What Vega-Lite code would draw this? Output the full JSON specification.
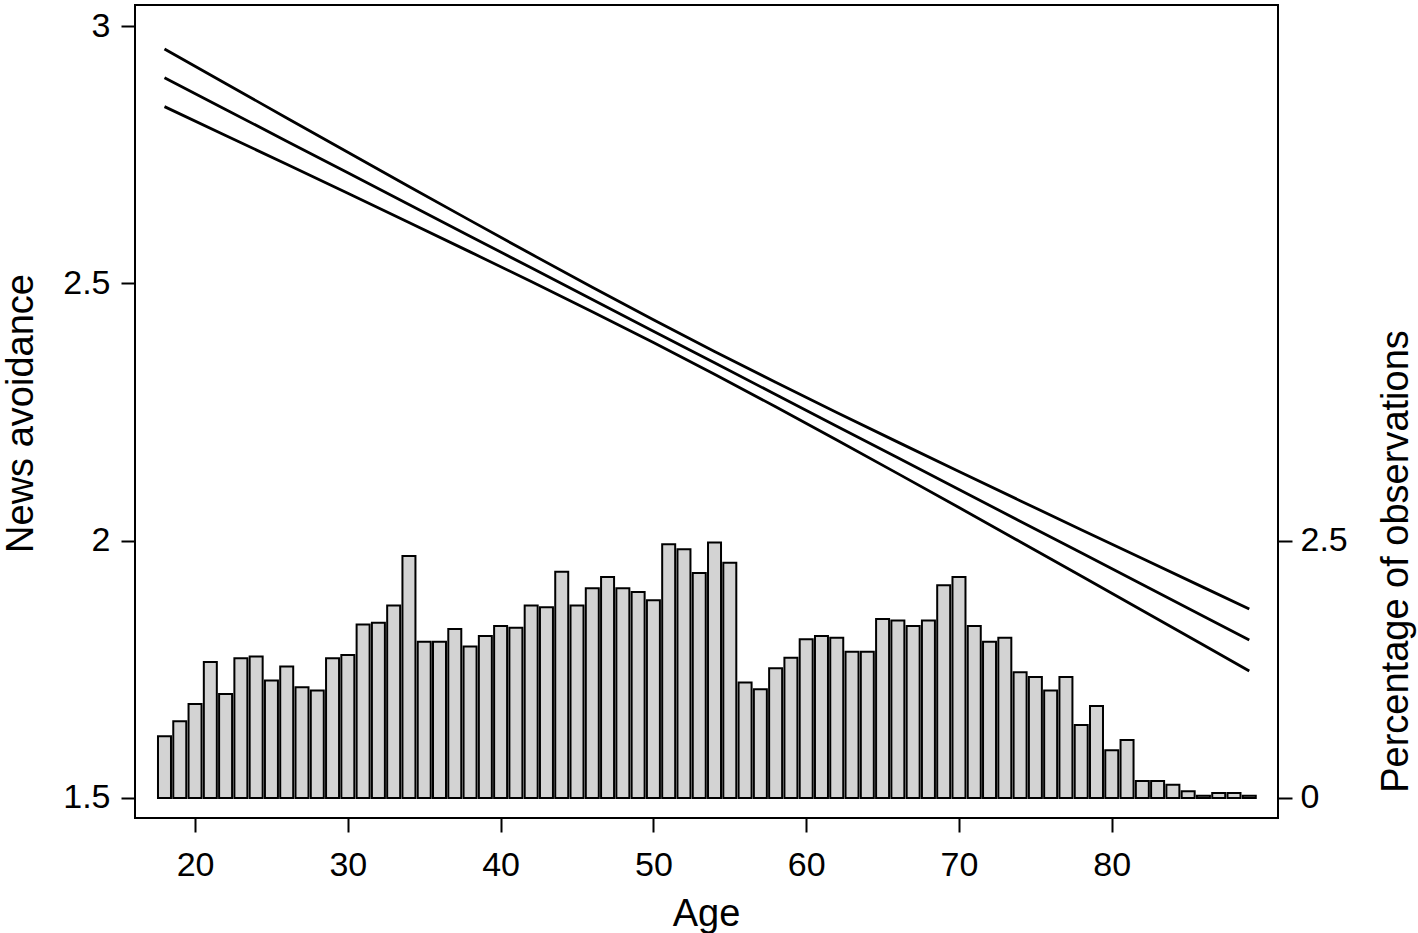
{
  "$schema": "https://vega.github.io/schema/vega-lite/v6.json",
  "width": 1143,
  "height": 813,
  "autosize": {"type": "none"},
  "padding": {"left": 135, "top": 5, "right": 140, "bottom": 115},
  "background": "white",
  "config": {
    "view": {"stroke": "black", "strokeWidth": 2},
    "font": "Liberation Sans",
    "axis": {
      "domain": false,
      "grid": false,
      "ticks": true,
      "tickColor": "black",
      "tickWidth": 2,
      "tickSize": 14,
      "labelFont": "Liberation Sans",
      "labelFontSize": 34,
      "labelColor": "black",
      "titleFont": "Liberation Sans",
      "titleFontSize": 38,
      "titleFontWeight": "normal",
      "titleColor": "black"
    }
  },
  "datasets": {
    "hist": [
      {"age": 18, "pct": 0.60}, {"age": 19, "pct": 0.745}, {"age": 20, "pct": 0.913}, {"age": 21, "pct": 1.322},
      {"age": 22, "pct": 1.011}, {"age": 23, "pct": 1.358}, {"age": 24, "pct": 1.375}, {"age": 25, "pct": 1.141},
      {"age": 26, "pct": 1.277}, {"age": 27, "pct": 1.076}, {"age": 28, "pct": 1.044}, {"age": 29, "pct": 1.358},
      {"age": 30, "pct": 1.388}, {"age": 31, "pct": 1.686}, {"age": 32, "pct": 1.702}, {"age": 33, "pct": 1.871},
      {"age": 34, "pct": 2.352}, {"age": 35, "pct": 1.517}, {"age": 36, "pct": 1.517}, {"age": 37, "pct": 1.641},
      {"age": 38, "pct": 1.472}, {"age": 39, "pct": 1.573}, {"age": 40, "pct": 1.670}, {"age": 41, "pct": 1.653},
      {"age": 42, "pct": 1.871}, {"age": 43, "pct": 1.852}, {"age": 44, "pct": 2.199}, {"age": 45, "pct": 1.871},
      {"age": 46, "pct": 2.037}, {"age": 47, "pct": 2.147}, {"age": 48, "pct": 2.037}, {"age": 49, "pct": 2.001},
      {"age": 50, "pct": 1.920}, {"age": 51, "pct": 2.465}, {"age": 52, "pct": 2.417}, {"age": 53, "pct": 2.186},
      {"age": 54, "pct": 2.481}, {"age": 55, "pct": 2.286}, {"age": 56, "pct": 1.122}, {"age": 57, "pct": 1.056},
      {"age": 58, "pct": 1.261}, {"age": 59, "pct": 1.361}, {"age": 60, "pct": 1.543}, {"age": 61, "pct": 1.573},
      {"age": 62, "pct": 1.556}, {"age": 63, "pct": 1.420}, {"age": 64, "pct": 1.420}, {"age": 65, "pct": 1.738},
      {"age": 66, "pct": 1.725}, {"age": 67, "pct": 1.670}, {"age": 68, "pct": 1.725}, {"age": 69, "pct": 2.066},
      {"age": 70, "pct": 2.147}, {"age": 71, "pct": 1.670}, {"age": 72, "pct": 1.517}, {"age": 73, "pct": 1.556},
      {"age": 74, "pct": 1.222}, {"age": 75, "pct": 1.176}, {"age": 76, "pct": 1.044}, {"age": 77, "pct": 1.176},
      {"age": 78, "pct": 0.709}, {"age": 79, "pct": 0.894}, {"age": 80, "pct": 0.463}, {"age": 81, "pct": 0.563},
      {"age": 82, "pct": 0.164}, {"age": 83, "pct": 0.164}, {"age": 84, "pct": 0.129}, {"age": 85, "pct": 0.066},
      {"age": 86, "pct": 0.02}, {"age": 87, "pct": 0.047}, {"age": 88, "pct": 0.047}, {"age": 89, "pct": 0.02}
    ],
    "lines": [
      {"age": 18, "series": "upper", "value": 2.9555}, {"age": 18, "series": "estimate", "value": 2.8995}, {"age": 18, "series": "lower", "value": 2.8435},
      {"age": 22, "series": "upper", "value": 2.8885}, {"age": 22, "series": "estimate", "value": 2.8380}, {"age": 22, "series": "lower", "value": 2.7875},
      {"age": 26, "series": "upper", "value": 2.8215}, {"age": 26, "series": "estimate", "value": 2.7764}, {"age": 26, "series": "lower", "value": 2.7313},
      {"age": 30, "series": "upper", "value": 2.7548}, {"age": 30, "series": "estimate", "value": 2.7149}, {"age": 30, "series": "lower", "value": 2.6750},
      {"age": 34, "series": "upper", "value": 2.6883}, {"age": 34, "series": "estimate", "value": 2.6533}, {"age": 34, "series": "lower", "value": 2.6183},
      {"age": 38, "series": "upper", "value": 2.6224}, {"age": 38, "series": "estimate", "value": 2.5918}, {"age": 38, "series": "lower", "value": 2.5612},
      {"age": 42, "series": "upper", "value": 2.5569}, {"age": 42, "series": "estimate", "value": 2.5302}, {"age": 42, "series": "lower", "value": 2.5035},
      {"age": 46, "series": "upper", "value": 2.4925}, {"age": 46, "series": "estimate", "value": 2.4687}, {"age": 46, "series": "lower", "value": 2.4449},
      {"age": 50, "series": "upper", "value": 2.4293}, {"age": 50, "series": "estimate", "value": 2.4071}, {"age": 50, "series": "lower", "value": 2.3849},
      {"age": 54, "series": "upper", "value": 2.3678}, {"age": 54, "series": "estimate", "value": 2.3456}, {"age": 54, "series": "lower", "value": 2.3234},
      {"age": 58, "series": "upper", "value": 2.3078}, {"age": 58, "series": "estimate", "value": 2.2840}, {"age": 58, "series": "lower", "value": 2.2602},
      {"age": 62, "series": "upper", "value": 2.2492}, {"age": 62, "series": "estimate", "value": 2.2225}, {"age": 62, "series": "lower", "value": 2.1958},
      {"age": 66, "series": "upper", "value": 2.1915}, {"age": 66, "series": "estimate", "value": 2.1609}, {"age": 66, "series": "lower", "value": 2.1303},
      {"age": 70, "series": "upper", "value": 2.1344}, {"age": 70, "series": "estimate", "value": 2.0994}, {"age": 70, "series": "lower", "value": 2.0644},
      {"age": 74, "series": "upper", "value": 2.0777}, {"age": 74, "series": "estimate", "value": 2.0378}, {"age": 74, "series": "lower", "value": 1.9979},
      {"age": 78, "series": "upper", "value": 2.0214}, {"age": 78, "series": "estimate", "value": 1.9763}, {"age": 78, "series": "lower", "value": 1.9312},
      {"age": 82, "series": "upper", "value": 1.9652}, {"age": 82, "series": "estimate", "value": 1.9147}, {"age": 82, "series": "lower", "value": 1.8642},
      {"age": 86, "series": "upper", "value": 1.9092}, {"age": 86, "series": "estimate", "value": 1.8532}, {"age": 86, "series": "lower", "value": 1.7972},
      {"age": 89, "series": "upper", "value": 1.8672}, {"age": 89, "series": "estimate", "value": 1.8070}, {"age": 89, "series": "lower", "value": 1.7468}
    ]
  },
  "layer": [
    {
      "data": {"name": "hist"},
      "mark": {"type": "bar", "size": 13, "fill": "#d3d3d3", "stroke": "black", "strokeWidth": 2},
      "encoding": {
        "x": {
          "field": "age",
          "type": "quantitative",
          "scale": {"domain": [16.07, 90.88], "nice": false, "zero": false, "padding": 0},
          "axis": {
            "orient": "bottom",
            "title": "Age",
            "values": [20, 30, 40, 50, 60, 70, 80],
            "labelPadding": 16,
            "titleX": 571,
            "titleY": 107,
            "titleAlign": "center",
            "titleBaseline": "alphabetic"
          }
        },
        "y": {
          "field": "pct",
          "type": "quantitative",
          "scale": {"domain": [-0.195, 7.705], "nice": false, "zero": false, "padding": 0},
          "axis": {
            "orient": "right",
            "title": "Percentage of observations",
            "values": [0, 2.5],
            "format": ".1~f",
            "labelPadding": 8,
            "titleAngle": -90,
            "titleX": 129,
            "titleY": 556,
            "titleAlign": "center",
            "titleBaseline": "alphabetic"
          }
        },
        "y2": {"datum": 0}
      }
    },
    {
      "data": {"name": "lines"},
      "mark": {"type": "line", "color": "black", "strokeWidth": 2.8},
      "encoding": {
        "x": {"field": "age", "type": "quantitative", "scale": {"domain": [16.07, 90.88], "nice": false, "zero": false, "padding": 0}},
        "y": {
          "field": "value",
          "type": "quantitative",
          "scale": {"domain": [1.461, 3.041], "nice": false, "zero": false},
          "axis": {
            "orient": "left",
            "title": "News avoidance",
            "values": [1.5, 2, 2.5, 3],
            "format": ".1~f",
            "labelPadding": 11,
            "titleAngle": -90,
            "titleX": -103,
            "titleY": 408,
            "titleAlign": "center",
            "titleBaseline": "alphabetic"
          }
        },
        "detail": {"field": "series", "type": "nominal"}
      }
    }
  ],
  "resolve": {"scale": {"y": "independent"}}
}
